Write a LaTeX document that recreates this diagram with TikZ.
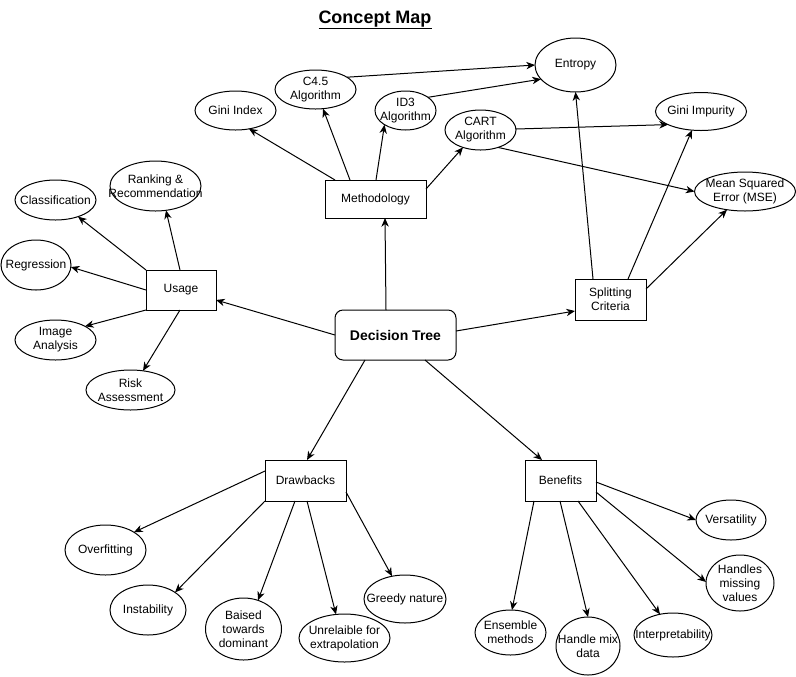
\documentclass[tikz,border=0pt]{standalone}
\usepackage{fontspec}
\setmainfont{Liberation Sans}
\usetikzlibrary{shapes.geometric,arrows.meta,calc}
\tikzset{
  ell/.style={draw,ellipse,line width=0.75pt,inner sep=0pt},
  lbl/.style={align=center,inner sep=0pt,font=\fontsize{9}{10.5}\selectfont},
  box/.style={draw,rectangle,line width=0.75pt,inner sep=0pt,align=center,font=\fontsize{9}{10.5}\selectfont},
  arr/.style={line width=0.75pt,-{Stealth[length=6.5pt,width=5.5pt,inset=2pt]}},
}
\newcommand{\E}[5]{\node[ell,minimum width=#3*0.75pt,minimum height=#4*0.75pt,label={[lbl]center:{#5}}] (#1) at #2 {};}
\newcommand{\B}[5]{\node[box,minimum width=#3*0.75pt,minimum height=#4*0.75pt] (#1) at #2 {#5};}
\begin{document}
\begin{tikzpicture}[x=0.75pt,y=-0.75pt]
\useasboundingbox (0,0) rectangle (796,676);
\node (title) at (375,20) {\fontsize{13.5}{15}\selectfont\bfseries\underline{Concept Map}};
\node[draw,rounded corners=6pt,line width=0.75pt,minimum width=121*0.75pt,minimum height=50*0.75pt,inner sep=0pt,font=\fontsize{10.5}{12}\selectfont\bfseries] (dt) at (395.5,335) {Decision Tree};
\B{meth}{(375.5,199)}{101}{38}{Methodology}
\B{usage}{(181,290)}{70}{40}{Usage}
\B{split}{(610.5,299.5)}{71}{41}{Splitting\\Criteria}
\B{drw}{(305.5,480.5)}{81}{41}{Drawbacks}
\B{ben}{(560.5,480.5)}{71}{41}{Benefits}
\E{gini}{(235.5,110.5)}{81}{39}{Gini Index}
\E{c45}{(315.5,89.5)}{81}{39}{C4.5\\Algorithm}
\E{id3}{(405.5,110.5)}{61}{39}{ID3\\Algorithm}
\E{cart}{(480.5,130)}{71}{40}{CART\\Algorithm}
\E{ent}{(575.5,65)}{81}{54}{Entropy}
\E{gimp}{(701,111.5)}{91}{38}{Gini Impurity}
\E{mse}{(745,191.5)}{101}{39}{Mean Squared\\Error (MSE)}
\E{cls}{(55.5,200)}{81}{40}{Classification}
\E{rank}{(155.5,186)}{91}{50}{Ranking \&\\Recommendation}
\E{regr}{(36,265)}{70}{50}{Regression}
\E{img}{(55.5,340)}{81}{40}{Image\\Analysis}
\E{risk}{(130.5,390)}{89}{40}{Risk\\Assessment}
\E{over}{(105.5,550)}{81}{50}{Overfitting}
\E{inst}{(148,610)}{76}{50}{Instability}
\E{bias}{(243.5,629)}{76}{62}{Baised\\towards\\dominant}
\E{unrel}{(344.5,638)}{91}{48}{Unrelaible for\\extrapolation}
\E{greedy}{(405,599)}{82}{48}{Greedy nature}
\E{vers}{(731,520)}{70}{40}{Versatility}
\E{hmiss}{(740,583)}{68}{56}{Handles\\missing\\values}
\E{interp}{(673,635)}{78}{44}{Interpretability}
\E{hmix}{(588,646)}{64}{58}{Handle mix\\data}
\E{ens}{(510.5,632.5)}{71}{45}{Ensemble\\methods}
% Decision tree edges
\draw[arr] ($(dt)+(-9.5,-25)$) -- ($(meth)+(9.5,19)$);
\draw[arr] ($(dt)+(-60.5,0)$) -- ($(usage)+(35,10)$);
\draw[arr] ($(dt)+(60.5,-4)$) -- ($(split)+(-35.5,11.5)$);
\draw[arr] ($(dt)+(-30.5,25)$) -- ($(drw)+(1.5,-20.5)$);
\draw[arr] ($(dt)+(29.5,25)$) -- ($(ben)+(-18.5,-20.5)$);
% Methodology
\draw[arr] ($(meth)+(-40.5,-19)$) -- ($(gini)+(13.5,18.3)$);
\draw[arr] ($(meth)+(-25.5,-19)$) -- ($(c45)+(7.5,19.2)$);
\draw[arr] ($(meth)+(0.5,-19)$) -- ($(id3)+(-21,14.2)$);
\draw[arr] ($(meth)+(50.5,-10)$) -- ($(cart)+(-17.5,17.4)$);
\draw[arr] ($(c45)+(31.5,-12.3)$) -- ($(ent)+(-40.5,0)$);
\draw[arr] ($(id3)+(22.5,-13.2)$) -- ($(ent)+(-34.5,14.1)$);
\draw[arr] ($(cart)+(35.5,-1)$) -- ($(gimp)+(-33,13.1)$);
\draw[arr] ($(cart)+(17.5,17.4)$) -- ($(mse)+(-50.5,0)$);
% Splitting
\draw[arr] ($(split)+(-17.5,-20.5)$) -- ($(ent)+(0,27)$);
\draw[arr] ($(split)+(17.5,-20.5)$) -- ($(gimp)+(-9,18.6)$);
\draw[arr] ($(split)+(35.5,-10.5)$) -- ($(mse)+(-18,18.2)$);
% Usage
\draw[arr] ($(usage)+(-35,-20)$) -- ($(cls)+(22.5,16.6)$);
\draw[arr] ($(usage)+(-1,-20)$) -- ($(rank)+(10.5,24.3)$);
\draw[arr] ($(usage)+(-35,0)$) -- ($(regr)+(34.8,2)$);
\draw[arr] ($(usage)+(-35,20)$) -- ($(img)+(29.5,-13.7)$);
\draw[arr] ($(usage)+(-1,20)$) -- ($(risk)+(12.5,-19.2)$);
% Drawbacks
\draw[arr] ($(drw)+(-40.5,-9.5)$) -- ($(over)+(28.5,-17.8)$);
\draw[arr] ($(drw)+(-40.5,20.5)$) -- ($(inst)+(27,-17.6)$);
\draw[arr] ($(drw)+(-10.5,20.5)$) -- ($(bias)+(14.5,-28.7)$);
\draw[arr] ($(drw)+(1.5,20.5)$) -- ($(unrel)+(-8.5,-23.6)$);
\draw[arr] ($(drw)+(40.5,11.5)$) -- ($(greedy)+(-13,-22.8)$);
% Benefits
\draw[arr] ($(ben)+(35.5,1.5)$) -- ($(vers)+(-35,0)$);
\draw[arr] ($(ben)+(35.5,11.5)$) -- ($(hmiss)+(-34,-1)$);
\draw[arr] ($(ben)+(17.5,20.5)$) -- ($(interp)+(-13,-20.7)$);
\draw[arr] ($(ben)+(-0.5,20.5)$) -- ($(hmix)+(0,-29)$);
\draw[arr] ($(ben)+(-26.5,20.5)$) -- ($(ens)+(1.5,-22.5)$);
\end{tikzpicture}
\end{document}
